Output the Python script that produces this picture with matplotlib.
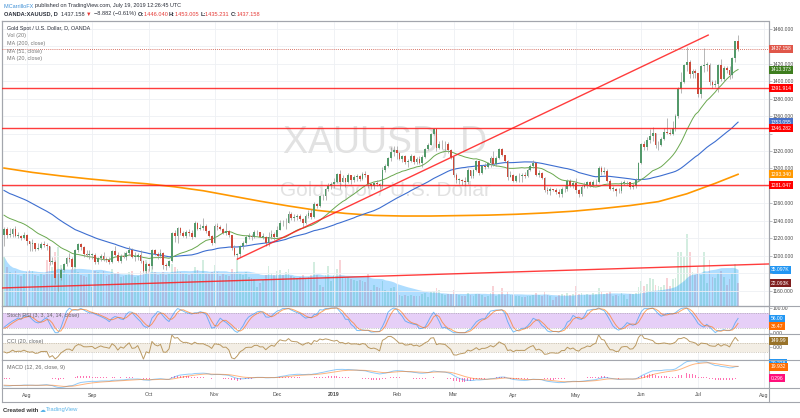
import numpy as np
import pandas as pd
import matplotlib
matplotlib.use("Agg")
import matplotlib.pyplot as plt

plt.rcParams['font.family'] = ['Liberation Sans', 'DejaVu Sans']

# cierres antes de la ventana visible (1 may - 19 jul 2018), solo para calentar medias e indicadores
cierres_previos = [
    1305, 1306, 1312, 1314, 1314, 1313, 1313, 1321, 1319, 1313, 1290, 1291,
    1289, 1292, 1292, 1291, 1304, 1304, 1302, 1298, 1300, 1299, 1299,
    1293, 1292, 1297, 1297, 1298, 1298, 1299, 1294, 1299, 1302, 1278, 1279,
    1276, 1269, 1264, 1269, 1266, 1258, 1254, 1248, 1252,
    1241, 1253, 1253, 1258, 1255, 1259, 1254, 1246, 1246, 1241, 1240, 1227, 1223, 1224,
]

# velas diarias visibles, 20 jul 2018 - 19 jul 2019 (un renglon por mes)
cierres = [
    1231, 1224, 1225, 1231, 1223, 1223, 1220, 1224,
    1217, 1213, 1214, 1208, 1209, 1213, 1212, 1211, 1193, 1193, 1174, 1174, 1184, 1190, 1197, 1196, 1187, 1206, 1213, 1210, 1202, 1201, 1201,
    1201, 1193, 1197, 1200, 1196, 1195, 1193, 1205, 1201, 1194, 1200, 1198, 1203, 1207, 1199, 1199, 1201, 1194, 1182, 1191,
    1188, 1207, 1202, 1200, 1203, 1189, 1188, 1194, 1226, 1223, 1232, 1226, 1223, 1227, 1226, 1222, 1237, 1231, 1232, 1234, 1228, 1223, 1214,
    1234, 1233, 1231, 1226, 1228, 1224, 1209, 1201, 1202, 1211, 1215, 1222, 1223, 1222, 1227, 1227, 1222, 1222, 1214, 1221, 1225, 1222,
    1230, 1238, 1237, 1238, 1248, 1243, 1244, 1246, 1242, 1238, 1245, 1249, 1244, 1259, 1257, 1269, 1268, 1276, 1280, 1282,
    1284, 1294, 1285, 1289, 1284, 1293, 1287, 1290, 1291, 1288, 1294, 1292, 1282, 1280, 1283, 1282, 1280, 1298, 1303, 1312, 1319, 1321,
    1318, 1311, 1314, 1307, 1309, 1314, 1307, 1311, 1306, 1313, 1322, 1327, 1340, 1345, 1324, 1328, 1328, 1328, 1321, 1313,
    1292, 1287, 1287, 1286, 1285, 1298, 1291, 1298, 1309, 1295, 1303, 1302, 1306, 1312, 1305, 1312, 1322, 1315, 1309, 1290, 1292,
    1286, 1291, 1291, 1292, 1291, 1298, 1303, 1306, 1293, 1295, 1289, 1275, 1274, 1276, 1275, 1273, 1271, 1277, 1276, 1286, 1280, 1283,
    1275, 1271, 1279, 1281, 1284, 1281, 1284, 1285, 1301, 1296, 1297, 1286, 1277, 1277, 1274, 1274, 1283, 1284, 1284, 1279, 1280, 1287, 1306,
    1328, 1325, 1333, 1337, 1341, 1327, 1327, 1334, 1342, 1341, 1339, 1346, 1360, 1391, 1399, 1419, 1422, 1408, 1412, 1409,
    1385, 1418, 1419, 1419, 1399, 1396, 1397, 1419, 1403, 1415, 1413, 1407, 1427, 1446.04, 1437.158,
]
maximos = [
    1233, 1233, 1232, 1232, 1234, 1227, 1224, 1227,
    1225, 1217, 1219, 1215, 1215, 1216, 1217, 1215, 1211, 1198, 1195, 1180, 1186, 1192, 1199, 1203, 1198, 1208, 1215, 1214, 1211, 1207, 1206,
    1203, 1203, 1199, 1202, 1204, 1199, 1198, 1206, 1211, 1204, 1202, 1204, 1205, 1211, 1209, 1204, 1203, 1207, 1195, 1193,
    1192, 1208, 1208, 1204, 1208, 1204, 1192, 1195, 1227, 1229, 1233, 1233, 1228, 1229, 1231, 1229, 1240, 1239, 1236, 1243, 1236, 1229, 1224,
    1236, 1237, 1235, 1232, 1237, 1229, 1224, 1212, 1203, 1212, 1217, 1224, 1226, 1225, 1229, 1229, 1227, 1226, 1223, 1227, 1229, 1227,
    1234, 1241, 1241, 1243, 1251, 1250, 1248, 1248, 1248, 1243, 1248, 1252, 1253, 1262, 1261, 1270, 1271, 1278, 1283, 1284,
    1289, 1295, 1298, 1293, 1289, 1295, 1293, 1292, 1294, 1293, 1296, 1297, 1293, 1283, 1285, 1287, 1283, 1302, 1305, 1313, 1325, 1326,
    1326, 1319, 1315, 1315, 1311, 1317, 1315, 1313, 1314, 1315, 1324, 1329, 1341, 1346, 1346, 1332, 1333, 1331, 1330, 1322,
    1314, 1295, 1289, 1288, 1290, 1300, 1298, 1299, 1310, 1310, 1304, 1306, 1308, 1314, 1320, 1314, 1324, 1323, 1316, 1310, 1297,
    1294, 1292, 1295, 1295, 1296, 1300, 1305, 1310, 1308, 1298, 1296, 1290, 1279, 1279, 1277, 1278, 1276, 1279, 1281, 1288, 1288, 1286,
    1289, 1276, 1281, 1285, 1286, 1286, 1287, 1288, 1303, 1303, 1302, 1299, 1288, 1280, 1278, 1278, 1286, 1287, 1286, 1285, 1283, 1289, 1307,
    1329, 1331, 1336, 1345, 1348, 1338, 1331, 1336, 1346, 1358, 1345, 1354, 1362, 1393, 1411, 1420, 1439, 1424, 1414, 1414,
    1410, 1419, 1438, 1422, 1421, 1401, 1401, 1420, 1426, 1418, 1418, 1418, 1428, 1446, 1453.005,
]
minimos = [
    1211, 1220, 1222, 1222, 1222, 1220, 1218, 1219,
    1212, 1205, 1205, 1205, 1206, 1208, 1210, 1207, 1189, 1191, 1167, 1160, 1172, 1183, 1188, 1193, 1185, 1187, 1204, 1207, 1199, 1199, 1196,
    1196, 1191, 1190, 1194, 1194, 1193, 1190, 1192, 1200, 1193, 1192, 1197, 1195, 1201, 1197, 1194, 1195, 1192, 1181, 1180,
    1183, 1185, 1201, 1196, 1197, 1185, 1184, 1187, 1193, 1216, 1215, 1224, 1222, 1220, 1223, 1219, 1221, 1229, 1230, 1230, 1226, 1222, 1212,
    1214, 1230, 1229, 1225, 1224, 1221, 1206, 1200, 1196, 1199, 1208, 1213, 1219, 1218, 1220, 1224, 1221, 1219, 1211, 1211, 1219, 1218,
    1225, 1229, 1234, 1231, 1237, 1241, 1240, 1241, 1240, 1233, 1236, 1243, 1242, 1243, 1255, 1256, 1264, 1264, 1274, 1277,
    1278, 1283, 1276, 1284, 1279, 1283, 1282, 1285, 1286, 1286, 1287, 1290, 1278, 1277, 1276, 1280, 1276, 1278, 1296, 1302, 1309, 1314,
    1311, 1310, 1307, 1305, 1302, 1307, 1305, 1305, 1305, 1302, 1312, 1321, 1327, 1338, 1320, 1322, 1322, 1320, 1318, 1311,
    1290, 1283, 1282, 1281, 1280, 1282, 1289, 1289, 1297, 1293, 1294, 1299, 1301, 1302, 1303, 1303, 1311, 1314, 1308, 1287, 1290,
    1285, 1284, 1285, 1285, 1289, 1290, 1297, 1301, 1291, 1290, 1288, 1273, 1271, 1270, 1274, 1271, 1267, 1267, 1273, 1274, 1279, 1278,
    1272, 1267, 1268, 1278, 1278, 1279, 1279, 1281, 1283, 1293, 1294, 1285, 1275, 1274, 1269, 1272, 1272, 1281, 1281, 1277, 1276, 1278, 1286,
    1305, 1321, 1321, 1329, 1331, 1323, 1321, 1326, 1333, 1340, 1338, 1338, 1343, 1358, 1387, 1398, 1412, 1404, 1404, 1404,
    1382, 1381, 1411, 1412, 1396, 1392, 1393, 1388, 1400, 1400, 1409, 1403, 1404, 1422, 1435.231,
]
# volumen en miles
volumen = [
    48, 38, 33, 32, 34, 30, 29, 31,
    33, 35, 34, 30, 29, 31, 30, 45, 42, 38, 52, 57, 40, 34, 32, 30, 36, 39, 33, 30, 29, 28, 31,
    18, 34, 33, 31, 34, 29, 30, 36, 32, 33, 28, 29, 30, 33, 34, 28, 29, 34, 40, 45,
    36, 42, 33, 30, 31, 33, 30, 32, 41, 38, 36, 33, 32, 31, 30, 32, 38, 35, 32, 45, 32, 31, 33,
    40, 33, 29, 31, 30, 29, 36, 33, 45, 32, 30, 33, 28, 27, 26, 18, 22, 25, 30, 39, 32, 30,
    34, 35, 30, 33, 36, 29, 28, 27, 28, 30, 27, 28, 30, 43, 30, 20, 18, 30, 39, 24,
    30, 36, 45, 28, 27, 28, 26, 25, 24, 25, 24, 23, 31, 16, 20, 18, 17, 24, 16, 15, 17, 18,
    15, 11, 10, 11, 10, 11, 10, 10, 10, 12, 13, 9, 14, 15, 17, 16, 12, 11, 12, 12,
    16, 12, 11, 10, 10, 13, 11, 10, 12, 12, 11, 9, 10, 13, 19, 10, 12, 17, 11, 14, 11,
    11, 10, 10, 9, 9, 10, 10, 11, 13, 11, 10, 14, 11, 10, 6, 9, 11, 12, 11, 13, 11, 12,
    19, 12, 13, 11, 12, 11, 13, 12, 17, 14, 12, 13, 15, 10, 11, 10, 13, 11, 7, 12, 12, 13, 18,
    24, 19, 21, 27, 26, 20, 19, 18, 20, 27, 19, 26, 27, 52, 52, 48, 70, 52, 33, 30,
    38, 30, 52, 22, 45, 28, 27, 32, 34, 28, 20, 26, 32, 41, 22.093,
]

ma200_idx = [0, 10, 20, 30, 40, 50, 60, 70, 80, 90, 100, 110, 120, 130, 140, 150, 160,
             170, 180, 190, 200, 210, 220, 230, 240, 250, 258]
ma200_val = [1300.5, 1295.5, 1291.5, 1288, 1285, 1282.5, 1279, 1274.5, 1268.5, 1262.5, 1257,
             1252, 1248.5, 1246.2, 1245.5, 1245.5, 1246, 1246.5, 1247.5, 1249, 1251, 1254,
             1257.5, 1262, 1271, 1283, 1293.34]

# lineas dibujadas a mano
lineas_h = [1391.914, 1346.282, 1281.047]
tendencia_alza = [(82, 1196), (247.5, 1453)]
tendencia_larga = [(-0.6, 1163), (268.7, 1190.5)]

# ultimos valores que muestra la escala derecha
ult_precio, ult_ma20, ult_ma51, ult_ma200 = 1437.158, 1413.373, 1353.055, 1293.340
ult_volma, ult_vol = 35.097, 22.093
ult_k, ult_d, ult_cci = 56.00, 36.47, 149.99
ult_macd, ult_senal, ult_hist = 20.228, 19.932, 0.296

# marcas de precio tapadas por las etiquetas de color
precios_ocultos = [1440, 1340, 1280, 1180]

meses = ['2018-08-01', '2018-09-01', '2018-10-01', '2018-11-01', '2018-12-01', '2019-01-01',
         '2019-02-01', '2019-03-01', '2019-04-01', '2019-05-01', '2019-06-01', '2019-07-01', '2019-08-01']
meses_txt = ['Aug', 'Sep', 'Oct', 'Nov', 'Dec', '2019', 'Feb', 'Mar', 'Apr', 'May', 'Jun', 'Jul', 'Aug']

# ---------------- calculos ----------------
n = len(cierres)
todo = pd.Series(cierres_previos + cierres, dtype=float)
ma20 = todo.rolling(20).mean().values[-n:]
ma51 = todo.rolling(51).mean().values[-n:]

# stoch rsi (3, 3, 14, 14)
dif = todo.diff()
sube = dif.clip(lower=0).ewm(alpha=1 / 14, adjust=False).mean()
baja = (-dif).clip(lower=0).ewm(alpha=1 / 14, adjust=False).mean()
rsi = 100 - 100 / (1 + sube / baja)
st = (rsi - rsi.rolling(14).min()) / (rsi.rolling(14).max() - rsi.rolling(14).min()) * 100
k = st.rolling(3).mean()
d = k.rolling(3).mean()
k, d = k.values[-n:], d.values[-n:]

# cci (20, close)
media = todo.rolling(20).mean()
desv = todo.rolling(20).apply(lambda v: np.abs(v - v.mean()).mean(), raw=True)
cci = ((todo - media) / (0.015 * desv)).values[-n:]

# macd (12, 26, 9)
macd = todo.ewm(span=12, adjust=False).mean() - todo.ewm(span=26, adjust=False).mean()
senal = macd.ewm(span=9, adjust=False).mean()
hist = (macd - senal).values[-n:]
macd, senal = macd.values[-n:], senal.values[-n:]

x = np.arange(n)
c = np.array(cierres, dtype=float)
o = np.concatenate([[cierres_previos[-1]], c[:-1]])
h = np.maximum(np.array(maximos, dtype=float), np.maximum(o, c))
l = np.minimum(np.array(minimos, dtype=float), np.minimum(o, c))
vol = np.array(volumen, dtype=float)
vol_ma = pd.Series(vol).rolling(20, min_periods=1).mean().values
sube_vela = c >= o

# posicion de cada mes en el eje de velas (dias habiles)
fechas = pd.bdate_range('2018-07-20', '2019-09-30')
fechas = fechas[~fechas.isin(pd.to_datetime(['2018-12-25', '2019-01-01']))]
pos_meses = [int(fechas.searchsorted(pd.Timestamp(m))) for m in meses]

# ---------------- figura ----------------
W, H = 800, 418
fig = plt.figure(figsize=(W / 100, H / 100), dpi=100)
fig.patch.set_facecolor('white')


def caja(x0, y0, x1, y1):
    return [x0 / W, 1 - y1 / H, (x1 - x0) / W, (y1 - y0) / H]


X0, X1 = 2.3, 768.5
ax = fig.add_axes(caja(X0, 20.7, X1, 306))
ax_st = fig.add_axes(caja(X0, 306, X1, 334))
ax_cci = fig.add_axes(caja(X0, 334, X1, 360))
ax_macd = fig.add_axes(caja(X0, 360, X1, 388))
ax_t = fig.add_axes(caja(X0, 388, X1, 402))
ax_v = ax.twinx()
ax.set_zorder(ax_v.get_zorder() + 1)
ax.patch.set_visible(False)

borde = '#a3a6ad'
gris_txt = '#4a4a4a'
verde, rojo = '#53996a', '#cc4a3a'
xlim = (-0.6, 268.7)

for a in [ax, ax_st, ax_cci, ax_macd, ax_t, ax_v]:
    a.set_xlim(*xlim)
    a.set_xticks([])
    for s in a.spines.values():
        s.set_color(borde)
        s.set_linewidth(0.8)
for a in [ax, ax_st, ax_cci, ax_macd]:
    for p in pos_meses:
        a.axvline(p, color='#eef0f4', lw=0.6, zorder=0)

# volumen (eje gemelo, detras de las velas)
ax_v.set_ylim(0, 277)
ax_v.set_yticks([])
ax_v.bar(x, vol, width=0.62, color=np.where(sube_vela, '#53b987', '#eb4d5c'), alpha=0.25, lw=0)
ax_v.fill_between(x, 0, vol_ma, color='#0496ff', alpha=0.32, lw=0)

# precio
ax.set_ylim(1142.3, 1469.5)
for v in range(1160, 1461, 20):
    ax.axhline(v, color='#eef0f4', lw=0.6, zorder=0)
ax.text(0.5, 0.57, 'XAUUSD, D', transform=ax.transAxes, ha='center', va='center',
        fontsize=27, color='#e2e2e2', zorder=0.2)
ax.text(0.5, 0.405, 'Gold Spot / U.S. Dollar', transform=ax.transAxes, ha='center', va='center',
        fontsize=15, color='#e2e2e2', zorder=0.2)

ax.plot(ma200_idx, ma200_val, color='#ff9800', lw=1.2, zorder=2)
ax.plot(x, ma51, color='#3d6ed0', lw=0.8, zorder=2)
ax.plot(x, ma20, color='#6aa84f', lw=0.7, zorder=2)

ax.vlines(x, l, h, color='#9a9a9a', lw=0.5, zorder=3)
cuerpo = np.maximum(np.abs(c - o), 0.4)
ax.bar(x, cuerpo, bottom=np.minimum(o, c), width=0.62,
       color=np.where(sube_vela, verde, rojo), lw=0, zorder=3.5)

for v in lineas_h:
    ax.axhline(v, color='#ff1a1a', lw=1.0, alpha=0.85, zorder=4)
ax.plot(*zip(*tendencia_alza), color='#ff1a1a', lw=1.0, alpha=0.85, zorder=4)
ax.plot(*zip(*tendencia_larga), color='#ff1a1a', lw=1.0, alpha=0.85, zorder=4)
ax.axhline(ult_precio, color=rojo, lw=0.6, ls=(0, (1, 1.5)), zorder=4)

ax.yaxis.tick_right()
ax.set_yticks(range(1160, 1461, 20))
ax.set_yticklabels(['' if v in precios_ocultos else f'{v:.3f}' for v in range(1160, 1461, 20)])
for a in [ax, ax_st, ax_cci, ax_macd]:
    a.tick_params(axis='y', labelsize=3.6, labelcolor=gris_txt, length=2, width=0.5,
                  color=borde, pad=1, right=True, left=False, labelright=True, labelleft=False)


def etiqueta(a, y, txt, color, dy=0):
    a.annotate(txt, xy=(1, y), xycoords=('axes fraction', 'data'), xytext=(1.6, dy),
               textcoords='offset points', ha='left', va='center', fontsize=3.6, color='white',
               annotation_clip=False, zorder=10,
               bbox=dict(boxstyle='square,pad=0.3', fc=color, ec='none'))


etiqueta(ax, ult_precio, f'{ult_precio:.3f}', '#e0574a')
etiqueta(ax, ult_ma20, f'{ult_ma20:.3f}', '#3e7d1e')
etiqueta(ax, lineas_h[0], f'{lineas_h[0]:.3f}', '#ff0000')
etiqueta(ax, ult_ma51, f'{ult_ma51:.3f}', '#4a72c8')
etiqueta(ax, lineas_h[1], f'{lineas_h[1]:.3f}', '#ff0000')
etiqueta(ax, ult_ma200, f'{ult_ma200:.3f}', '#ff9800')
etiqueta(ax, lineas_h[2], f'{lineas_h[2]:.3f}', '#ff0000')
etiqueta(ax_v, ult_volma, f'{ult_volma:.3f}K', '#2196f3')
etiqueta(ax_v, ult_vol, f'{ult_vol:.3f}K', '#7f1d1d')

# stoch rsi
ax_st.set_ylim(-5.3, 108)
ax_st.axhspan(20, 80, color='#e6cff7', lw=0, zorder=0.5)
for v in (20, 80):
    ax_st.axhline(v, color='#9a9a9a', lw=0.4, ls=(0, (2, 2)), zorder=1)
ax_st.plot(x, k, color='#2196f3', lw=0.7, alpha=0.6, zorder=2)
ax_st.plot(x, d, color='#ff6d00', lw=0.7, alpha=0.6, zorder=2)
ax_st.set_yticks([0, 100])
ax_st.set_yticklabels(['0.00', '100.00'])
etiqueta(ax_st, ult_k, f'{ult_k:.2f}', '#2196f3')
etiqueta(ax_st, ult_d, f'{ult_d:.2f}', '#ff6d00', dy=-2)

# cci
ax_cci.set_ylim(-289, 302)
ax_cci.axhspan(-100, 100, color='#f3eee5', lw=0, zorder=0.5)
for v in (-100, 100):
    ax_cci.axhline(v, color='#b0a48e', lw=0.4, ls=(0, (2, 2)), zorder=1)
ax_cci.plot(x, cci, color='#b08a4a', lw=0.7, alpha=0.85, zorder=2)
ax_cci.set_yticks([0])
ax_cci.set_yticklabels(['0.00'])
etiqueta(ax_cci, ult_cci, f'{ult_cci:.2f}', '#98732a')

# macd
ax_macd.set_ylim(-17, 31.5)
ax_macd.bar(x, hist, width=0.35, color='#ff4fa0', alpha=0.8, lw=0, zorder=1)
ax_macd.plot(x, macd, color='#2196f3', lw=0.7, alpha=0.5, zorder=2)
ax_macd.plot(x, senal, color='#ff6d00', lw=0.7, alpha=0.5, zorder=2)
ax_macd.set_yticks([])
etiqueta(ax_macd, 26.3, f'{ult_macd:.3f}', '#2196f3')
etiqueta(ax_macd, 19.4, f'{ult_senal:.3f}', '#ff6d00')
etiqueta(ax_macd, 0.3, f'{ult_hist:.3f}', '#ff0f7b')

# eje de fechas
ax_t.set_ylim(0, 1)
ax_t.set_yticks([])
for p, t in zip(pos_meses, meses_txt):
    ax_t.text(p, 0.5, t, ha='center', va='center', fontsize=3.8, color=gris_txt,
              fontweight='bold' if t == '2019' else 'normal')

for y in (306, 334, 360, 388, 402):
    fig.add_artist(plt.Line2D([X1 / W, 1], [1 - y / H] * 2, color=borde, lw=0.8))

# textos
ren = fig.canvas.get_renderer()


def ancho(txt, tam, peso):
    t1 = fig.text(0, 0, txt + '|', fontsize=tam, fontweight=peso)
    t2 = fig.text(0, 0, '|', fontsize=tam, fontweight=peso)
    w = t1.get_window_extent(renderer=ren).width - t2.get_window_extent(renderer=ren).width
    t1.remove()
    t2.remove()
    return w


def texto_partes(x_px, y_px, partes, tam):
    for txt, col, peso in partes:
        fig.text(x_px / W, 1 - y_px / H, txt, color=col, fontsize=tam, fontweight=peso,
                 ha='left', va='center')
        x_px += ancho(txt, tam, peso)


oscuro = '#2a2e39'
rojo_t = '#e53935'
texto_partes(4, 6, [('MCarrilloFX ', '#3d8fd6', 'normal'),
                    ('published on TradingView.com, July 19, 2019 12:26:45 UTC', oscuro, 'normal')], 4.0)
texto_partes(4, 14, [('OANDA:XAUUSD, D  ', oscuro, 'bold'), ('1437.158 ', oscuro, 'normal'),
                     ('▼ ', rojo_t, 'normal'), ('−8.882 (−0.61%) ', oscuro, 'normal'),
                     ('O:', oscuro, 'bold'), ('1446.040 ', rojo_t, 'normal'),
                     ('H:', oscuro, 'bold'), ('1453.005 ', rojo_t, 'normal'),
                     ('L:', oscuro, 'bold'), ('1435.231 ', rojo_t, 'normal'),
                     ('C:', oscuro, 'bold'), ('1437.158', rojo_t, 'normal')], 4.1)

leyenda = ['Gold Spot / U.S. Dollar, D, OANDA', 'Vol (20)', 'MA (200, close)', 'MA (51, close)', 'MA (20, close)']
for i, t in enumerate(leyenda):
    fig.text(7 / W, 1 - (28.3 + i * 7.6) / H, t, fontsize=3.9, va='center',
             color=oscuro if i == 0 else '#777777')
for y, t in [(315, 'Stoch RSI (3, 3, 14, 14, close)'), (342, 'CCI (20, close)'),
             (368, 'MACD (12, 26, close, 9)')]:
    fig.text(7 / W, 1 - y / H, t, fontsize=3.9, va='center', color='#666666')

texto_partes(3, 410, [('Created with ', '#333333', 'bold'), ('☁', '#5ab4e8', 'normal'),
                      ('TradingView', '#5ab4e8', 'normal')], 4.2)

fig.savefig('out.png', dpi=100, facecolor='white')
